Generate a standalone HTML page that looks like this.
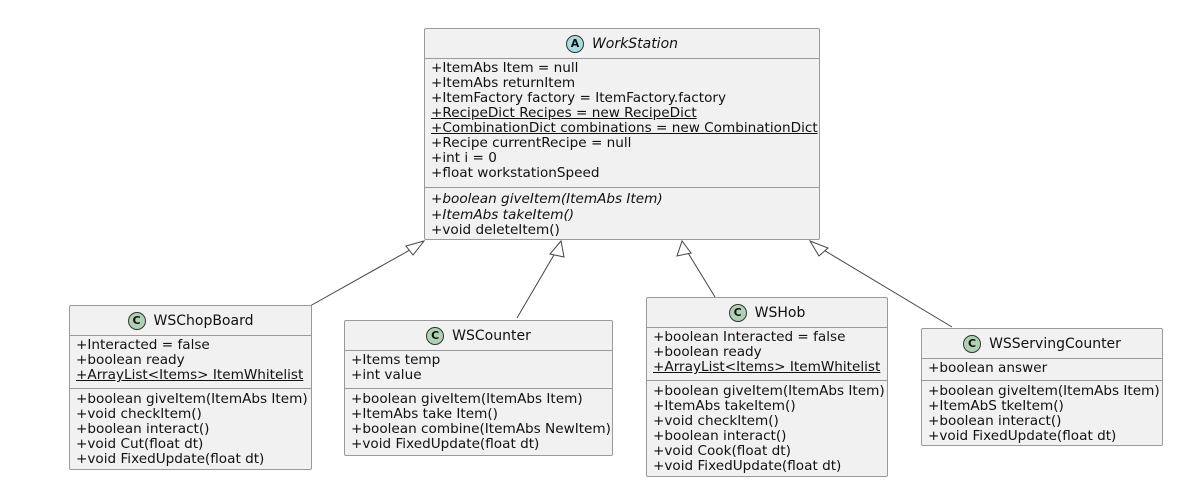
<!DOCTYPE html>
<html><head><meta charset="utf-8"><style>
body{margin:0;width:1183px;height:484px;background:#fff;position:relative;overflow:hidden;font-family:"DejaVu Sans","Liberation Sans",sans-serif;font-size:13.6px;color:#111}
.box{position:absolute;background:#f1f1f1;border:1px solid #9a9a9a;border-radius:2px;box-sizing:border-box}
.hd{position:absolute;left:0;right:0;top:0;display:flex;align-items:center;justify-content:center;border-bottom:1px solid #9a9a9a;box-sizing:border-box;font-size:14px}
.ci{width:18px;height:18px;border-radius:50%;border:1px solid #333;box-sizing:border-box;display:inline-flex;align-items:center;justify-content:center;font-size:11px;font-weight:bold;margin-right:8px}
.sec{position:absolute;left:0;right:0;padding-left:6px;line-height:15px;white-space:nowrap;letter-spacing:0px}
.sep{position:absolute;left:0;right:0;border-top:1px solid #9a9a9a}
u{text-decoration:underline}
</style></head><body>
<svg width="1183" height="484" style="position:absolute;left:0;top:0">
<g stroke="#444" stroke-width="1" fill="#fff">
<line x1="310" y1="306" x2="417" y2="246"/>
<line x1="517" y1="318" x2="558" y2="248"/>
<line x1="715" y1="297" x2="685" y2="248"/>
<line x1="952" y1="327" x2="817" y2="246"/>
<polygon points="424,241 406,246 413,255"/>
<polygon points="561,241 550,254 564,257"/>
<polygon points="682,241 677,256 691,253"/>
<polygon points="810,241 819,256 828,248"/>
</g></svg>

<div class="box" style="left:424px;top:28px;width:396px;height:212px">
<div class="hd" style="height:30px"><span class="ci" style="background:#a9dcdf">A</span><i>WorkStation</i></div>
<div class="sec" style="top:32px">+ItemAbs Item = null<br>+ItemAbs returnItem<br>+ItemFactory factory = ItemFactory.factory<br><u>+RecipeDict Recipes = new RecipeDict</u><br><u>+CombinationDict combinations = new CombinationDict</u><br>+Recipe currentRecipe = null<br>+int i = 0<br>+float workstationSpeed</div>
<div class="sep" style="top:158px"></div>
<div class="sec" style="top:163px;line-height:15.5px"><i>+boolean giveItem(ItemAbs Item)</i><br><i>+ItemAbs takeItem()</i><br>+void deleteItem()</div>
</div>

<div class="box" style="left:69px;top:305px;width:243px;height:165px">
<div class="hd" style="height:30px"><span class="ci" style="background:#add1b2">C</span>WSChopBoard</div>
<div class="sec" style="top:32px">+Interacted = false<br>+boolean ready<br><u>+ArrayList&lt;Items&gt; ItemWhitelist</u></div>
<div class="sep" style="top:82px"></div>
<div class="sec" style="top:86px">+boolean giveItem(ItemAbs Item)<br>+void checkItem()<br>+boolean interact()<br>+void Cut(float dt)<br>+void FixedUpdate(float dt)</div>
</div>

<div class="box" style="left:344px;top:320px;width:269px;height:136px">
<div class="hd" style="height:30px"><span class="ci" style="background:#add1b2">C</span>WSCounter</div>
<div class="sec" style="top:32px">+Items temp<br>+int value</div>
<div class="sep" style="top:67px"></div>
<div class="sec" style="top:71px">+boolean giveItem(ItemAbs Item)<br>+ItemAbs take Item()<br>+boolean combine(ItemAbs NewItem)<br>+void FixedUpdate(float dt)</div>
</div>

<div class="box" style="left:646px;top:297px;width:242px;height:180px">
<div class="hd" style="height:30px"><span class="ci" style="background:#add1b2">C</span>WSHob</div>
<div class="sec" style="top:32px">+boolean Interacted = false<br>+boolean ready<br><u>+ArrayList&lt;Items&gt; ItemWhitelist</u></div>
<div class="sep" style="top:82px"></div>
<div class="sec" style="top:86px">+boolean giveItem(ItemAbs Item)<br>+ItemAbs takeItem()<br>+void checkItem()<br>+boolean interact()<br>+void Cook(float dt)<br>+void FixedUpdate(float dt)</div>
</div>

<div class="box" style="left:921px;top:328px;width:242px;height:118px">
<div class="hd" style="height:30px"><span class="ci" style="background:#add1b2">C</span>WSServingCounter</div>
<div class="sec" style="top:32px">+boolean answer</div>
<div class="sep" style="top:51px"></div>
<div class="sec" style="top:55px">+boolean giveItem(ItemAbs Item)<br>+ItemAbS tkeItem()<br>+boolean interact()<br>+void FixedUpdate(float dt)</div>
</div>
</body></html>
